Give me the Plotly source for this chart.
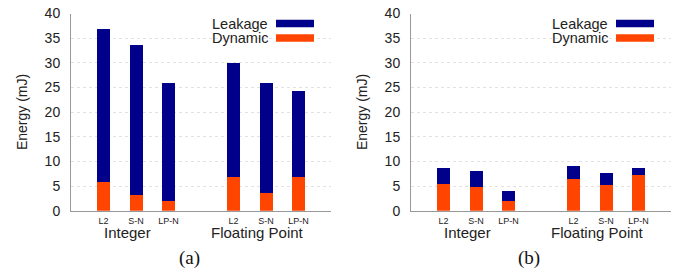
import plotly.graph_objects as go

W, H = 677, 275

categories = ["L2", "S-N", "LP-N", "L2", "S-N", "LP-N"]
groups = ["Integer", "Floating Point"]

# Panel (a)
a_total = [37.0, 33.8, 26.1, 30.1, 26.1, 24.4]
a_dynamic = [6.0, 3.2, 2.0, 7.0, 3.6, 7.0]
# Panel (b)
b_total = [8.8, 8.25, 4.1, 9.2, 7.85, 8.8]
b_dynamic = [5.5, 4.9, 2.0, 6.6, 5.35, 7.3]

a_leak = [t - d for t, d in zip(a_total, a_dynamic)]
b_leak = [t - d for t, d in zip(b_total, b_dynamic)]

yticks = [0, 5, 10, 15, 20, 25, 30, 35, 40]

NAVY = "#00008B"
ORANGE = "#FF4500"
SANS = "Liberation Sans, Arial, sans-serif"
SERIF = "Liberation Serif, Times New Roman, serif"

# x positions: one empty slot between the two groups
xpos = [i + i // 3 for i in range(len(categories))]


def px(xp):
    return xp / W


def py(yp):
    return (H - yp) / H


fig = go.Figure()

panels = [
    ("x", "y", a_dynamic, a_leak, 71, 331, "(a)"),
    ("x2", "y2", b_dynamic, b_leak, 411, 671, "(b)"),
]

top_px, bot_px = 13.5, 210.7
ydom = [py(bot_px), py(top_px)]

layout_axes = {}
annotations = []
shapes = []
for idx, (xa, ya, dyn, leak, x0, x1, lab) in enumerate(panels):
    fig.add_trace(go.Bar(x=xpos, y=dyn, xaxis=xa, yaxis=ya, marker_color=ORANGE,
                         marker_line_width=0, width=0.4, showlegend=False, name="Dynamic"))
    fig.add_trace(go.Bar(x=xpos, y=leak, xaxis=xa, yaxis=ya, marker_color=NAVY,
                         marker_line_width=0, width=0.4, showlegend=False, name="Leakage"))
    sfx = "" if idx == 0 else "2"
    layout_axes["xaxis" + sfx] = dict(
        domain=[px(x0), px(x1)], range=[-1, 7], anchor=ya, automargin=False,
        tickmode="array", tickvals=xpos, ticktext=categories,
        tickfont=dict(family=SANS, size=9, color="#222"),
        showgrid=False, zeroline=False, showline=True, linecolor="#999", linewidth=1,
        ticks="", ticklabelstandoff=1, fixedrange=True,
    )
    layout_axes["yaxis" + sfx] = dict(
        domain=ydom, range=[0, 40], anchor=xa, automargin=False,
        tickmode="array", tickvals=yticks, ticklabeloverflow="allow",
        tickfont=dict(family=SANS, size=14, color="#222"),
        showgrid=True, gridcolor="#e2e2e2", griddash="dot", gridwidth=1,
        zeroline=False, showline=True, linecolor="#999", linewidth=1,
        ticks="", ticklabelstandoff=7,
    )
    # y-axis title
    annotations.append(dict(x=px(x0 - 49), y=py((top_px + bot_px) / 2),
                            xref="paper", yref="paper", text="Energy (mJ)", textangle=-90,
                            showarrow=False, xanchor="center", yanchor="middle",
                            font=dict(family=SANS, size=14, color="#222")))
    # group labels
    for g, name in enumerate(groups):
        mid = xpos[g * 3 + 1]
        annotations.append(dict(x=mid, y=py(232), xref=xa, yref="paper",
                                yanchor="middle", xanchor="center",
                                text=name, showarrow=False, xshift=-9,
                                font=dict(family=SANS, size=15, color="#222")))
    # panel label
    annotations.append(dict(x=px((x0 + x1) / 2 - 12), y=py(258), xref="paper", yref="paper",
                            text=lab, showarrow=False, xanchor="center", yanchor="middle",
                            font=dict(family=SERIF, size=19, color="#111")))
    # custom legend: text left of swatch
    for j, (name, col, yc) in enumerate([("Leakage", NAVY, 23.5), ("Dynamic", ORANGE, 38)]):
        annotations.append(dict(x=px(x0 + 198), y=py(yc), xref="paper", yref="paper",
                                text=name, showarrow=False, xanchor="right", yanchor="middle",
                                borderpad=0,
                                font=dict(family=SANS, size=14.5, color="#222")))
        shapes.append(dict(type="rect", xref="paper", yref="paper",
                           x0=px(x0 + 205), x1=px(x0 + 243),
                           y0=py(yc + 3.7), y1=py(yc - 3.7),
                           fillcolor=col, line_width=0))

fig.update_layout(
    width=W, height=H,
    margin=dict(l=0, r=0, t=0, b=0),
    paper_bgcolor="white", plot_bgcolor="white",
    barmode="stack", bargap=0,
    annotations=annotations, shapes=shapes,
    showlegend=False,
    **layout_axes,
)

fig.write_html("out.html", config={"displayModeBar": False},
               post_script="document.body.style.margin='0';document.body.style.overflow='hidden';")
